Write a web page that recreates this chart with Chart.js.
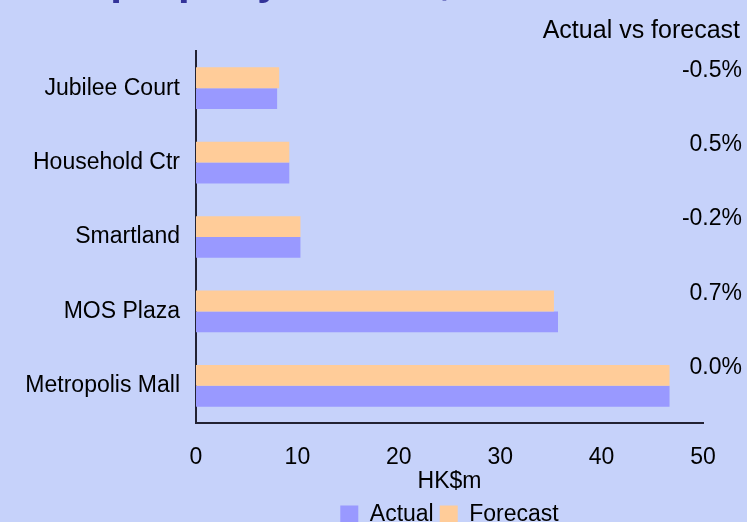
<!DOCTYPE html>
<html>
<head>
<meta charset="utf-8">
<script src="https://cdn.jsdelivr.net/npm/chart.js@4.4.1/dist/chart.umd.min.js"></script>
<style>
  html, body { margin: 0; padding: 0; background: #c6d2fa; overflow: hidden; }
  #wrap { position: relative; width: 747px; height: 522px; }
  #title {
    position: absolute; left: 31px; top: -41px; margin: 0;
    font: bold 42px/42px "Liberation Sans", Arial, sans-serif;
    color: #333399; white-space: nowrap;
  }
</style>
</head>
<body>
<div id="wrap">
  <h1 id="title">Net property income, 2004</h1>
  <canvas id="chart" width="747" height="522"></canvas>
</div>
<script>
// properties, top to bottom
const properties = ['Jubilee Court', 'Household Ctr', 'Smartland', 'MOS Plaza', 'Metropolis Mall'];
// HK$m
const actual = [8.0, 9.2, 10.3, 35.7, 46.7];
const forecast = [8.2, 9.2, 10.3, 35.3, 46.7];
// actual vs forecast
const variance = ['-0.5%', '0.5%', '-0.2%', '0.7%', '0.0%'];
const xTicks = [0, 10, 20, 30, 40, 50];

const FONT = '"Liberation Sans", Arial, sans-serif';
Chart.defaults.font.family = FONT;
Chart.defaults.color = '#000';

// variance text on the right
const varianceLabels = {
  id: 'varianceLabels',
  afterDraw(chart) {
    const ctx = chart.ctx;
    const y = chart.scales.y;
    ctx.save();
    ctx.fillStyle = '#000';
    ctx.textAlign = 'right';
    ctx.textBaseline = 'middle';
    ctx.font = '25px ' + FONT;
    ctx.fillText('Actual vs forecast', 740, 31);
    ctx.font = '23px ' + FONT;
    variance.forEach((v, i) => {
      ctx.fillText(v, 742, y.getPixelForValue(i) - 18);
    });
    ctx.restore();
  }
};

new Chart(document.getElementById('chart'), {
  type: 'bar',
  data: {
    labels: properties,
    datasets: [
      { label: 'Forecast', data: forecast, backgroundColor: '#ffcc99' },
      { label: 'Actual', data: actual, backgroundColor: '#9999ff' }
    ]
  },
  options: {
    indexAxis: 'y',
    responsive: false,
    animation: false,
    layout: { padding: { top: 51, right: 44, left: 0, bottom: -14 } },
    datasets: { bar: { categoryPercentage: 0.56, barPercentage: 1 } },
    scales: {
      y: {
        grid: { display: false, drawTicks: false },
        border: { display: true, color: '#222233', width: 2 },
        ticks: { padding: 16, font: { size: 23 } },
        afterFit(scale) { scale.width = 196; }
      },
      x: {
        min: 0, max: 50,
        grid: { display: false, drawTicks: false },
        border: { display: true, color: '#222233', width: 2 },
        ticks: {
          padding: 23, font: { size: 23, lineHeight: 1 },
          stepSize: 10,
          callback: (v) => xTicks.includes(v) ? v : ''
        },
        title: { display: true, text: 'HK$m', font: { size: 23, lineHeight: 1 }, padding: { top: 0, bottom: 4 } },
        afterFit(scale) { scale.height = 74; }
      }
    },
    plugins: {
      legend: {
        position: 'bottom',
        reverse: true,
        fullSize: false,
        labels: { boxWidth: 18, boxHeight: 18, padding: 6, font: { size: 23, lineHeight: 1 } }
      },
      tooltip: { enabled: false }
    }
  },
  plugins: [varianceLabels]
});
</script>
</body>
</html>
